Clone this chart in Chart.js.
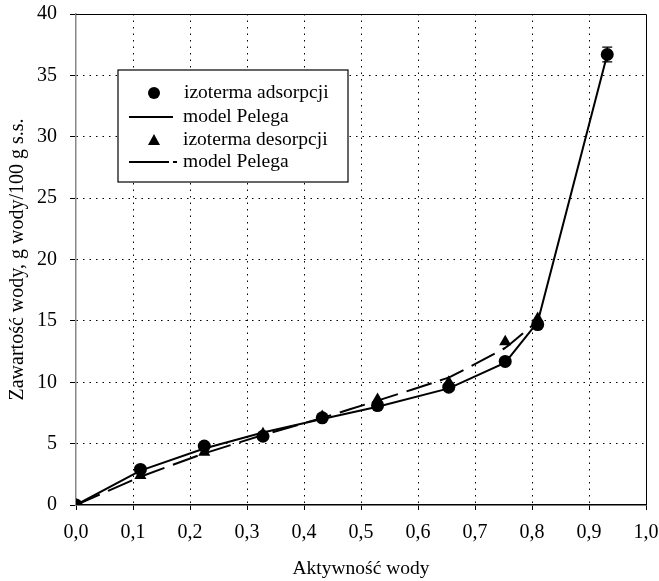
<!DOCTYPE html>
<html>
<head>
<meta charset="utf-8">
<script src="https://cdn.jsdelivr.net/npm/chart.js@4.4.0/dist/chart.umd.min.js"></script>
<style>
  html, body { margin: 0; padding: 0; background: #fff; }
  #wrap { width: 659px; height: 581px; }
</style>
</head>
<body>
<div id="wrap"><canvas id="myChart" width="659" height="581"></canvas></div>
<script>
// aktywnosc wody (x)
var awAds = [0, 0.113, 0.225, 0.328, 0.432, 0.529, 0.654, 0.753, 0.810, 0.932]
var adsorpcja = [0, 2.9, 4.8, 5.6, 7.1, 8.1, 9.6, 11.7, 14.7, 36.7]
var adsErr = [0, 0, 0, 0, 0, 0, 0, 0, 0, 0.6]
var modelAds = [0, 2.8, 4.6, 5.9, 7.0, 8.0, 9.5, 11.6, 14.9, 36.7]

var awDes = [0, 0.113, 0.225, 0.328, 0.432, 0.529, 0.654, 0.753, 0.810]
var desorpcja = [0, 2.4, 4.3, 5.8, 7.2, 8.6, 10.0, 13.3, 15.2]
var modelDes = [0, 2.3, 4.2, 5.7, 7.1, 8.5, 10.4, 12.8, 15.0]

var xTicks = ['0,0','0,1','0,2','0,3','0,4','0,5','0,6','0,7','0,8','0,9','1,0']
var yTicks = ['0','5','10','15','20','25','30','35','40']

var legendLabels = ['izoterma adsorpcji', 'model Pelega', 'izoterma desorpcji', 'model Pelega']

function pts(xs, ys) {
  var out = []
  for (var i = 0; i < xs.length; i++) out.push({x: xs[i], y: ys[i]})
  return out
}

var font = 'Liberation Serif'

// ramka wykresu (gora i prawa strona) + slupki bledow
var framePlugin = {
  id: 'frame',
  afterDatasetsDraw: function(chart) {
    var ctx = chart.ctx, a = chart.chartArea
    var xs = chart.scales.x, ys = chart.scales.y
    ctx.save()
    ctx.setLineDash([])
    // error bars
    ctx.strokeStyle = '#000'
    ctx.lineWidth = 1.2
    for (var i = 0; i < awAds.length; i++) {
      if (!adsErr[i]) continue
      var px = xs.getPixelForValue(awAds[i])
      var y1 = ys.getPixelForValue(adsorpcja[i] + adsErr[i])
      var y2 = ys.getPixelForValue(adsorpcja[i] - adsErr[i])
      ctx.beginPath()
      ctx.moveTo(px, y1); ctx.lineTo(px, y2)
      ctx.moveTo(px - 5, y1); ctx.lineTo(px + 5, y1)
      ctx.moveTo(px - 5, y2); ctx.lineTo(px + 5, y2)
      ctx.stroke()
    }
    ctx.strokeStyle = '#000'
    ctx.lineWidth = 1
    ctx.beginPath()
    ctx.moveTo(a.left, a.top + 0.5)
    ctx.lineTo(a.right + 0.5, a.top + 0.5)
    ctx.lineTo(a.right + 0.5, a.bottom)
    ctx.stroke()
    ctx.restore()
  }
}

// legenda w ramce
var legendPlugin = {
  id: 'boxLegend',
  afterDraw: function(chart) {
    var ctx = chart.ctx, a = chart.chartArea
    var bx = a.left + 42, by = a.top + 56, bw = 230, bh = 112
    ctx.save()
    ctx.setLineDash([])
    ctx.fillStyle = '#fff'
    ctx.fillRect(bx, by, bw, bh)
    ctx.strokeStyle = '#000'
    ctx.lineWidth = 1.2
    ctx.strokeRect(bx, by, bw, bh)
    ctx.fillStyle = '#000'
    ctx.font = '19.5px "' + font + '"'
    ctx.textBaseline = 'middle'
    var rows = [by + 23, by + 47, by + 70, by + 92]
    var mx = bx + 36
    // kolko
    ctx.beginPath()
    ctx.arc(mx, rows[0], 6, 0, Math.PI * 2)
    ctx.fill()
    // linia ciagla
    ctx.lineWidth = 2
    ctx.beginPath()
    ctx.moveTo(bx + 11, rows[1]); ctx.lineTo(bx + 55, rows[1])
    ctx.stroke()
    // trojkat
    ctx.beginPath()
    ctx.moveTo(mx, rows[2] - 6)
    ctx.lineTo(mx + 6, rows[2] + 5)
    ctx.lineTo(mx - 6, rows[2] + 5)
    ctx.closePath()
    ctx.fill()
    // linia przerywana
    ctx.beginPath()
    ctx.moveTo(bx + 11, rows[3]); ctx.lineTo(bx + 51, rows[3])
    ctx.moveTo(bx + 55, rows[3]); ctx.lineTo(bx + 59, rows[3])
    ctx.stroke()
    ctx.textAlign = 'left'
    ctx.fillText(legendLabels[0], bx + 66, rows[0])
    ctx.fillText(legendLabels[1], bx + 65, rows[1])
    ctx.fillText(legendLabels[2], bx + 65, rows[2])
    ctx.fillText(legendLabels[3], bx + 65, rows[3])
    ctx.restore()
  }
}

var myChart = document.getElementById('myChart').getContext('2d')
var chart = new Chart(myChart, {
  type: 'scatter',
  data: {
    datasets: [
      {
        label: 'model Pelega (des)',
        data: pts(awDes, modelDes),
        showLine: true,
        borderColor: '#000',
        borderWidth: 2,
        borderDash: [26, 9],
        pointRadius: 0,
        tension: 0.1
      },
      {
        label: 'model Pelega (ads)',
        data: pts(awAds, modelAds),
        showLine: true,
        borderColor: '#000',
        borderWidth: 2,
        pointRadius: 0,
        tension: 0
      },
      {
        label: 'izoterma desorpcji',
        data: pts(awDes, desorpcja),
        pointStyle: 'triangle',
        pointRadius: 7,
        backgroundColor: '#000',
        borderColor: '#000',
        borderWidth: 0
      },
      {
        label: 'izoterma adsorpcji',
        data: pts(awAds, adsorpcja),
        pointStyle: 'circle',
        pointRadius: 6.5,
        backgroundColor: '#000',
        borderColor: '#000',
        borderWidth: 0
      }
    ]
  },
  plugins: [framePlugin, legendPlugin],
  options: {
    responsive: false,
    animation: false,
    layout: { padding: { top: 14, right: 13, left: 0, bottom: 0 } },
    plugins: {
      legend: { display: false },
      tooltip: { enabled: false }
    },
    scales: {
      x: {
        type: 'linear',
        min: 0, max: 1,
        afterFit: function(s) {
          s.height = 76
          s.paddingLeft = 0; s.paddingRight = 0
        },
        afterBuildTicks: function(s) {
          s.ticks = xTicks.map(function(t, i) { return {value: i / 10} })
        },
        ticks: {
          color: '#000',
          font: { family: font, size: 20 },
          padding: 11,
          maxRotation: 0,
          autoSkip: false,
          callback: function(v, i) { return xTicks[i] }
        },
        grid: {
          color: function(c) { return (c.index === 0 || c.index === 10) ? 'rgba(0,0,0,0)' : '#000' },
          lineWidth: 1,
          drawTicks: true,
          tickLength: 5,
          tickColor: '#000',
          tickBorderDash: []
        },
        border: { color: '#000', width: 1.5, dash: [1.5, 5] },
        title: {
          display: true,
          text: 'Aktywność wody',
          color: '#000',
          font: { family: font, size: 19.5 },
          padding: { top: 10, bottom: 0 }
        }
      },
      y: {
        type: 'linear',
        min: 0, max: 40,
        afterFit: function(s) {
          s.width = 76
          s.paddingTop = 0; s.paddingBottom = 0
        },
        afterBuildTicks: function(s) {
          s.ticks = yTicks.map(function(t) { return {value: Number(t)} })
        },
        ticks: {
          color: '#000',
          font: { family: font, size: 20 },
          padding: 13,
          autoSkip: false,
          callback: function(v, i) { return yTicks[i] }
        },
        grid: {
          color: function(c) { return (c.index === 0 || c.index === 8) ? 'rgba(0,0,0,0)' : '#000' },
          lineWidth: 1,
          drawTicks: true,
          tickLength: 6,
          tickColor: '#000',
          tickBorderDash: []
        },
        border: { color: '#888', width: 1.5, dash: [1.5, 5] },
        title: {
          display: true,
          text: 'Zawartość wody, g wody/100 g s.s.',
          color: '#000',
          font: { family: font, size: 20 },
          padding: { top: 6, bottom: 0 }
        }
      }
    }
  }
})
</script>
</body>
</html>
